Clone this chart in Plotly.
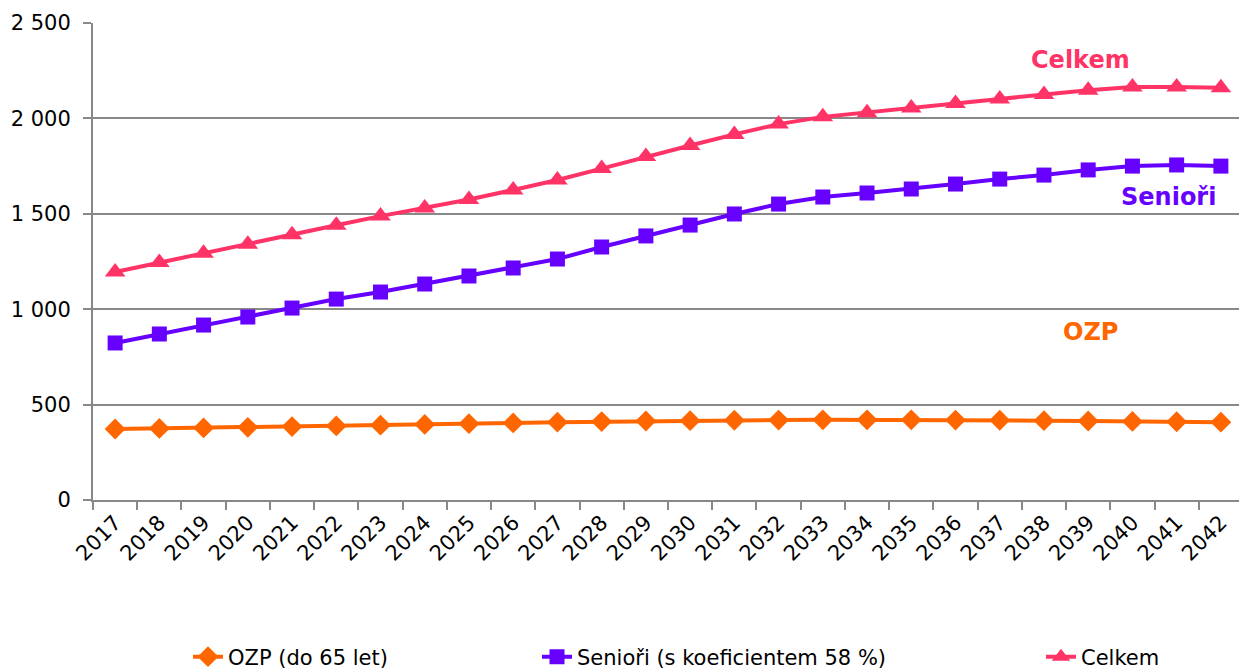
import plotly.graph_objects as go

years = [str(y) for y in range(2017, 2043)]

ozp = [372, 375, 378, 381, 385, 388, 392, 396, 400, 404, 408, 411, 414,
       416, 418, 419, 420, 420, 420, 419, 418, 416, 414, 412, 410, 408]
seniori = [823, 870, 917, 959, 1006, 1053, 1090, 1132, 1174, 1216, 1263, 1326, 1384,
           1441, 1499, 1551, 1588, 1609, 1630, 1656, 1682, 1703, 1730, 1750, 1756, 1750]
celkem = [1195, 1245, 1293, 1341, 1390, 1440, 1488, 1530, 1575, 1625, 1677, 1737, 1800,
          1858, 1916, 1970, 2008, 2030, 2055, 2078, 2102, 2125, 2148, 2164, 2165, 2160]

names = ["OZP (do 65 let)", "Senioři (s koeficientem 58 %)", "Celkem"]
colors = ["#FF6600", "#6600FF", "#FF3366"]
symbols = ["diamond", "square", "triangle-up"]
sizes = [16, 15, 18]
legend_ids = ["legend", "legend2", "legend3"]

# page pixel positions (the page has an 8px body margin)
OFF = 8
W, H = 1247, 669
plot_l, plot_r, plot_t, plot_b = 93, 1243, 23, 500

fig = go.Figure()
for vals, name, col, sym, sz, lg in zip([ozp, seniori, celkem], names, colors, symbols, sizes, legend_ids):
    fig.add_trace(go.Scatter(
        x=years, y=vals, name=name, mode="lines+markers",
        line=dict(color=col, width=4),
        marker=dict(symbol=sym, size=sz, color=col),
        legend=lg, showlegend=True,
    ))

# text of each legend entry starts about 41px right of the legend's x
legend_starts = [188, 537, 1041]
legend_style = dict(orientation="h", yref="container", y=(H - (657 - OFF)) / H, yanchor="middle",
                    xref="container", xanchor="left",
                    font=dict(family="DejaVu Sans, Verdana", size=21, color="#000"),
                    bgcolor="rgba(0,0,0,0)", itemwidth=30)
legends = {}
for lg, sx in zip(legend_ids, legend_starts):
    legends[lg] = dict(x=(sx - OFF) / W, **legend_style)

fig.update_layout(
    width=W, height=H,
    plot_bgcolor="white", paper_bgcolor="white",
    separators=", ",
    font=dict(family="DejaVu Sans, Verdana", size=20, color="#000"),
    margin=dict(l=plot_l - OFF, r=W + OFF - plot_r, t=plot_t - OFF, b=H + OFF - plot_b),
    **legends,
    xaxis=dict(
        type="category", range=[-0.5, 25.5], automargin=False,
        tickangle=-45, tickson="boundaries", ticks="outside", ticklen=8,
        tickcolor="#888", tickwidth=2,
        showline=True, linecolor="#888", linewidth=2,
        showgrid=False, tickfont=dict(size=21),
    ),
    yaxis=dict(
        range=[0, 2500], dtick=500, tickformat=",d", automargin=False,
        ticks="outside", ticklen=8, tickcolor="#888", tickwidth=2,
        ticklabelstandoff=8,
        showline=True, linecolor="#888", linewidth=2,
        showgrid=True, gridcolor="#888", gridwidth=2,
        zeroline=False, tickfont=dict(size=21),
    ),
)

label_pos = [(1080, 60), (1168, 197), (1090, 332)]
anns = []
for (px_, py_), txt, col in zip(label_pos, ["Celkem", "Senioři", "OZP"], [colors[2], colors[1], colors[0]]):
    anns.append(dict(
        text=f"<b>{txt}</b>",
        x=(px_ - plot_l) / (plot_r - plot_l), y=(plot_b - py_) / (plot_b - plot_t),
        xref="paper", yref="paper", xanchor="center", yanchor="middle", showarrow=False,
        font=dict(size=24, color=col),
    ))
fig.update_layout(annotations=anns)

fig.write_html("out.html")
